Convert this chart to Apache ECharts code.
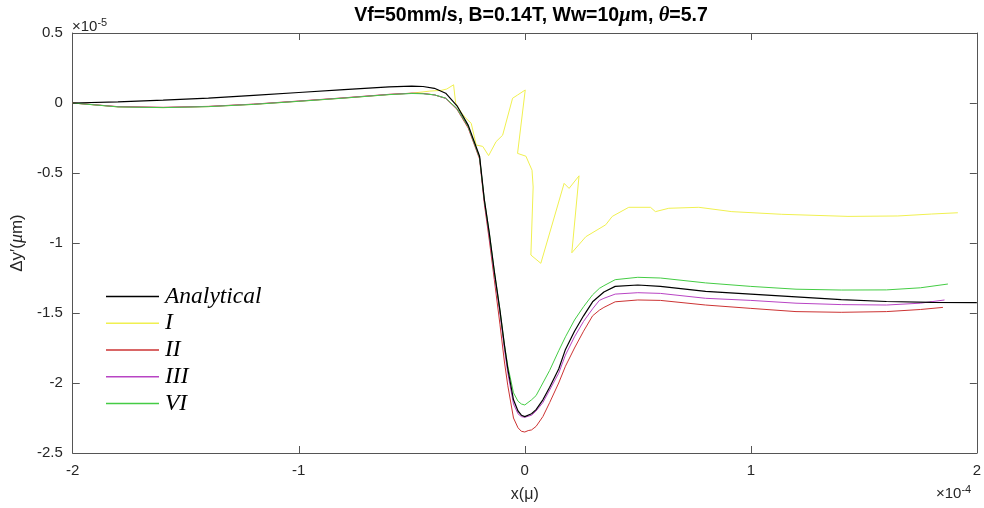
<!DOCTYPE html>
<html>
<head>
<meta charset="utf-8">
<script src="https://cdn.jsdelivr.net/npm/echarts@6/dist/echarts.min.js"></script>
<style>html,body{margin:0;padding:0;background:#fff;}#c{width:984px;height:508px;}</style>
</head>
<body>
<div id="c"></div>
<script>
// x in units of 1e-4, y in units of 1e-5
var xTicks = ['-2', '-1', '0', '1', '2'];
var yTicks = ['-2.5', '-2', '-1.5', '-1', '-0.5', '0', '0.5'];
var seriesNames = ['Analytical', 'I', 'II', 'III', 'VI'];

var xAnalytical = [-2, -1.8, -1.6, -1.4, -1.2, -1.0, -0.8, -0.6, -0.5, -0.45, -0.4, -0.35, -0.3, -0.25, -0.2, -0.179, -0.157, -0.135, -0.11, -0.09, -0.075, -0.05, -0.03, -0.015, 0, 0.03, 0.05, 0.08, 0.11, 0.15, 0.18, 0.22, 0.26, 0.3, 0.35, 0.4, 0.5, 0.6, 0.8, 1.0, 1.2, 1.4, 1.6, 1.8, 2.0];
var yAnalytical = [0, 0.008, 0.02, 0.035, 0.055, 0.075, 0.095, 0.115, 0.12, 0.118, 0.105, 0.07, -0.02, -0.16, -0.38, -0.69, -0.93, -1.2, -1.48, -1.73, -1.9, -2.12, -2.2, -2.23, -2.24, -2.22, -2.19, -2.12, -2.03, -1.9, -1.76, -1.63, -1.52, -1.42, -1.35, -1.31, -1.30, -1.31, -1.345, -1.365, -1.385, -1.405, -1.418, -1.424, -1.426];

var xI = [-2, -1.8, -1.6, -1.4, -1.2, -1.0, -0.8, -0.6, -0.5, -0.42, -0.37, -0.345, -0.315, -0.306, -0.28, -0.26, -0.237, -0.215, -0.186, -0.16, -0.127, -0.098, -0.054, -0.032, 0.002, -0.032, 0.005, 0.032, 0.037, 0.027, 0.071, 0.174, 0.196, 0.24, 0.208, 0.27, 0.358, 0.387, 0.46, 0.556, 0.578, 0.637, 0.77, 0.916, 1.137, 1.43, 1.65, 1.8, 1.916];
var yI = [0, -0.028, -0.033, -0.026, -0.01, 0.012, 0.035, 0.06, 0.07, 0.085, 0.09, 0.1, 0.13, 0.0, -0.07, -0.11, -0.145, -0.3, -0.31, -0.376, -0.276, -0.23, 0.034, 0.057, 0.093, -0.36, -0.38, -0.48, -0.6, -1.086, -1.145, -0.574, -0.61, -0.52, -1.07, -0.955, -0.87, -0.81, -0.745, -0.745, -0.776, -0.752, -0.745, -0.776, -0.795, -0.81, -0.807, -0.793, -0.784];

var xII = [-2, -1.8, -1.6, -1.4, -1.2, -1.0, -0.8, -0.6, -0.5, -0.45, -0.4, -0.35, -0.3, -0.25, -0.2, -0.179, -0.157, -0.135, -0.11, -0.09, -0.075, -0.05, -0.03, -0.015, 0, 0.015, 0.03, 0.05, 0.08, 0.11, 0.15, 0.18, 0.22, 0.26, 0.3, 0.33, 0.35, 0.4, 0.5, 0.6, 0.8, 1.0, 1.2, 1.4, 1.6, 1.75, 1.85];
var yII = [0, -0.026, -0.031, -0.024, -0.008, 0.014, 0.037, 0.062, 0.07, 0.068, 0.058, 0.033, -0.045, -0.18, -0.40, -0.72, -0.98, -1.26, -1.58, -1.85, -2.02, -2.25, -2.32, -2.345, -2.35, -2.34, -2.335, -2.31, -2.24, -2.14, -2.0, -1.88, -1.75, -1.63, -1.52, -1.48, -1.46, -1.42, -1.407, -1.41, -1.443, -1.467, -1.49, -1.495, -1.49, -1.475, -1.46];

var xIII = [-2, -1.8, -1.6, -1.4, -1.2, -1.0, -0.8, -0.6, -0.5, -0.45, -0.4, -0.35, -0.3, -0.25, -0.2, -0.179, -0.157, -0.135, -0.11, -0.09, -0.075, -0.05, -0.03, -0.015, 0, 0.03, 0.05, 0.08, 0.11, 0.15, 0.18, 0.22, 0.26, 0.3, 0.33, 0.35, 0.4, 0.5, 0.6, 0.8, 1.0, 1.2, 1.4, 1.6, 1.75, 1.857];
var yIII = [0, -0.027, -0.032, -0.025, -0.009, 0.013, 0.036, 0.061, 0.069, 0.067, 0.058, 0.034, -0.04, -0.17, -0.39, -0.70, -0.95, -1.22, -1.5, -1.76, -1.93, -2.15, -2.22, -2.24, -2.245, -2.23, -2.2, -2.14, -2.05, -1.93, -1.8, -1.67, -1.56, -1.47, -1.41, -1.395, -1.365, -1.355, -1.36, -1.395, -1.41, -1.43, -1.44, -1.443, -1.43, -1.407];

var xVI = [-2, -1.8, -1.6, -1.4, -1.2, -1.0, -0.8, -0.6, -0.5, -0.45, -0.4, -0.35, -0.3, -0.25, -0.2, -0.179, -0.157, -0.135, -0.11, -0.09, -0.075, -0.05, -0.03, -0.015, 0, 0.03, 0.05, 0.08, 0.11, 0.15, 0.18, 0.22, 0.26, 0.3, 0.33, 0.35, 0.4, 0.5, 0.6, 0.8, 1.0, 1.2, 1.4, 1.6, 1.75, 1.872];
var yVI = [0, -0.028, -0.033, -0.026, -0.01, 0.012, 0.035, 0.06, 0.068, 0.066, 0.058, 0.035, -0.04, -0.17, -0.39, -0.69, -0.93, -1.2, -1.48, -1.73, -1.88, -2.07, -2.13, -2.15, -2.157, -2.12, -2.09, -2.0, -1.91, -1.77, -1.67, -1.55, -1.455, -1.37, -1.324, -1.305, -1.262, -1.245, -1.25, -1.285, -1.31, -1.33, -1.336, -1.335, -1.32, -1.293];

var colors = ['#000000', '#f0f050', '#cc3333', '#b844c4', '#44cc44'];

function pairs(xs, ys) { return xs.map(function (x, i) { return [x, ys[i]]; }); }
var allData = [pairs(xAnalytical, yAnalytical), pairs(xI, yI), pairs(xII, yII), pairs(xIII, yIII), pairs(xVI, yVI)];

var axisColor = '#555555';
var labelColor = '#262626';

var chart = echarts.init(document.getElementById('c'), null, { renderer: 'canvas' });
var option = {
  animation: false,
  backgroundColor: '#ffffff',
  title: {
    text: '{a|Vf=50mm/s, B=0.14T, Ww=10}{i|μ}{a|m, }{i|θ}{a|=5.7}',
    left: 526, top: 1, textAlign: 'center',
    textStyle: {
      rich: {
        a: { fontFamily: 'Liberation Sans, Arial', fontSize: 19.5, fontWeight: 'bold', color: '#000' },
        i: { fontFamily: 'Liberation Serif', fontSize: 20.5, fontStyle: 'italic', color: '#000' }
      }
    }
  },
  legend: {
    orient: 'vertical',
    left: 101, top: 280,
    icon: 'rect',
    itemWidth: 53, itemHeight: 1.3, itemGap: 3.75,
    data: seriesNames,
    textStyle: { fontFamily: 'Liberation Serif, Times New Roman', fontStyle: 'italic', fontSize: 23.5, color: '#000', padding: [0, 0, 0, 1] }
  },
  grid: { left: 72, right: 5, top: 33, bottom: 55, containLabel: false },
  xAxis: [{
    type: 'value', min: -2, max: 2, interval: 1,
    name: 'x(μ)', nameLocation: 'middle', nameGap: 34,
    nameTextStyle: { fontFamily: 'Liberation Sans, Arial', fontSize: 16, color: labelColor },
    axisLine: { show: true, onZero: false, lineStyle: { color: axisColor, width: 1 } },
    axisTick: { show: true, inside: true, length: 7, lineStyle: { color: axisColor } },
    axisLabel: { margin: 10, fontFamily: 'Liberation Sans, Arial', fontSize: 15, color: labelColor,
      formatter: function (v) { var i = Math.round(v + 2); return xTicks[i]; } },
    splitLine: { show: false }
  }, {
    type: 'value', min: -2, max: 2, interval: 1, position: 'top',
    axisLine: { show: true, onZero: false, lineStyle: { color: axisColor, width: 1 } },
    axisTick: { show: true, inside: true, length: 7, lineStyle: { color: axisColor } },
    axisLabel: { show: false }, splitLine: { show: false }
  }],
  yAxis: [{
    type: 'value', min: -2.5, max: 0.5, interval: 0.5,
    name: '{a|Δy′(}{i|μ}{a|m)}', nameLocation: 'middle', nameGap: 42, nameRotate: 90,
    nameTextStyle: {
      rich: {
        a: { fontFamily: 'Liberation Sans, Arial', fontSize: 17, color: labelColor },
        i: { fontFamily: 'Liberation Serif', fontSize: 18, fontStyle: 'italic', color: labelColor }
      }
    },
    axisLine: { show: true, onZero: false, lineStyle: { color: axisColor, width: 1 } },
    axisTick: { show: true, inside: true, length: 7, lineStyle: { color: axisColor } },
    axisLabel: { margin: 10, fontFamily: 'Liberation Sans, Arial', fontSize: 15, color: labelColor,
      formatter: function (v) { var i = Math.round((v + 2.5) / 0.5); return yTicks[i]; } },
    splitLine: { show: false }
  }, {
    type: 'value', min: -2.5, max: 0.5, interval: 0.5, position: 'right',
    axisLine: { show: true, onZero: false, lineStyle: { color: axisColor, width: 1 } },
    axisTick: { show: true, inside: true, length: 7, lineStyle: { color: axisColor } },
    axisLabel: { show: false }, splitLine: { show: false }
  }],
  graphic: [
    { type: 'text', left: 72, top: 17, style: { rich: { a: { fontFamily: 'Liberation Sans, Arial', fontSize: 15, fill: labelColor }, s: { fontFamily: 'Liberation Sans, Arial', fontSize: 11, fill: labelColor, verticalAlign: 'top', padding: [0, 0, 8, 0] } }, text: '{a|×10}{s|-5}' } },
    { type: 'text', left: 936, top: 484, style: { rich: { a: { fontFamily: 'Liberation Sans, Arial', fontSize: 15, fill: labelColor }, s: { fontFamily: 'Liberation Sans, Arial', fontSize: 11, fill: labelColor, verticalAlign: 'top', padding: [0, 0, 8, 0] } }, text: '{a|×10}{s|-4}' } }
  ],
  series: seriesNames.map(function (n, i) {
    return {
      name: n, type: 'line', data: allData[i],
      showSymbol: false, symbol: 'none', smooth: false,
      lineStyle: { color: colors[i], width: i === 0 ? 1.2 : 1 },
      itemStyle: { color: colors[i] },
      z: i === 0 ? 5 : 2
    };
  })
};
chart.setOption(option);
</script>
</body>
</html>
